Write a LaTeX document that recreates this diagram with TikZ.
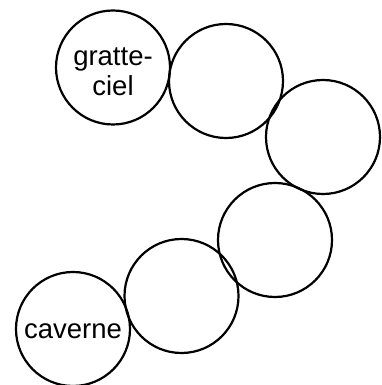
\documentclass[tikz,border=0pt]{standalone}
\usepackage{fontspec}
\setmainfont{Liberation Sans}
\usetikzlibrary{positioning}

\begin{document}
\begin{tikzpicture}[
    x=1pt, y=1pt,
    ring/.style={draw, circle, line width=2.2pt, minimum size=114pt, inner sep=0pt},
    word/.style={font=\fontsize{27.5}{30}\selectfont, align=center, inner sep=0pt},
]
    \useasboundingbox (0,0) rectangle (382,385);

    \node[ring] (sky) at (113,317.5) {};
    \node[ring] (stepa) at (226,304) {};
    \node[ring] (stepb) at (323,248) {};
    \node[ring] (stepc) at (275,145) {};
    \node[ring] (stepd) at (181.5,89) {};
    \node[ring] (cave) at (73,56) {};

    \node[word] (skytext) at ([yshift=-4pt]sky.center) {gratte-\\ciel};
    \node[word] (cavetext) at ([yshift=-2pt]cave.center) {caverne};
\end{tikzpicture}
\end{document}
